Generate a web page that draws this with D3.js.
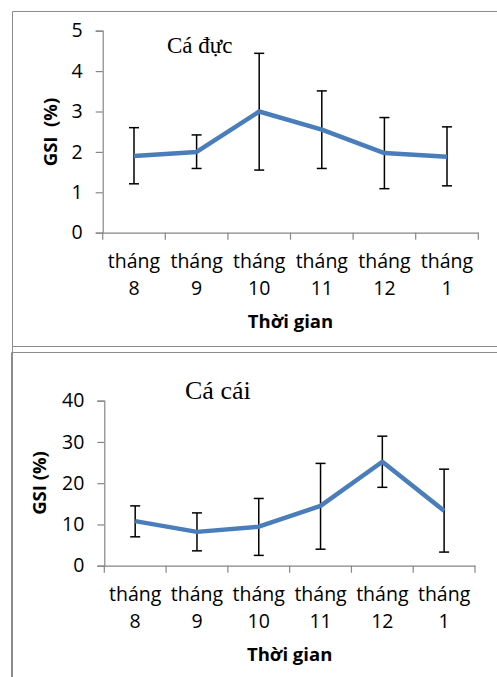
<!DOCTYPE html>
<html><head><meta charset="utf-8">
<script src="https://cdn.jsdelivr.net/npm/d3@7"></script>
<style>body{margin:0;background:#fff}svg{display:block}</style>
</head><body>
<svg id="c" width="497" height="677"></svg>
<script>
const categories = ["tháng 8","tháng 9","tháng 10","tháng 11","tháng 12","tháng 1"];
const maleGSI  = [1.90, 2.00, 3.00, 2.55, 1.97, 1.88];
const maleLow  = [1.21, 1.59, 1.55, 1.59, 1.09, 1.16];
const maleHigh = [2.60, 2.42, 4.44, 3.51, 2.85, 2.62];
const maleTicks = [0,1,2,3,4,5];
const femaleGSI  = [10.8, 8.2, 9.45, 14.5, 25.2, 13.3];
const femaleLow  = [7.0, 3.6, 2.5, 4.0, 19.0, 3.3];
const femaleHigh = [14.5, 12.8, 16.3, 24.8, 31.4, 23.4];
const femaleTicks = [0,10,20,30,40];

const svg = d3.select("#c");
const FONT = "'Open Sans', sans-serif";

function panel(cfg){
  svg.append("path").attr("d", cfg.frame).attr("fill","none").attr("stroke","#8c8c8c").attr("stroke-width",1);
  const g = svg.append("g");
  const x = d3.scaleBand().domain(categories).range([cfg.x0, cfg.x1]);
  const y = d3.scaleLinear().domain([0, d3.max(cfg.ticks)]).range([cfg.y0, cfg.y1]);
  const ya = g.append("g").attr("transform",`translate(${cfg.x0},0)`)
    .call(d3.axisLeft(y).tickValues(cfg.ticks).tickFormat(d3.format("d")).tickSize(7).tickPadding(13));
  ya.select(".domain").attr("stroke","#868686").attr("stroke-width",1.2);
  ya.selectAll(".tick line").attr("stroke","#868686").attr("stroke-width",1.2);
  ya.selectAll(".tick text").attr("font-family",FONT).attr("font-size",19.5).attr("fill","#000");
  const xa = g.append("g").attr("transform",`translate(0,${cfg.y0})`)
    .call(d3.axisBottom(x).tickSize(0).tickFormat(""));
  xa.select(".domain").attr("stroke","#868686").attr("stroke-width",1.2);
  const bounds = categories.map(c=>x(c)).concat([cfg.x1]);
  g.selectAll(".bt").data(bounds).join("line")
    .attr("x1",d=>d).attr("x2",d=>d).attr("y1",cfg.y0).attr("y2",cfg.y0+7)
    .attr("stroke","#868686").attr("stroke-width",1.2);
  const lab = g.selectAll(".cl").data(categories).join("text")
    .attr("text-anchor","middle").attr("font-family",FONT).attr("font-size",19.5).attr("fill","#000");
  lab.append("tspan").attr("x",c=>x(c)+x.bandwidth()/2).attr("y",cfg.y0+35).text(c=>c.split(" ")[0]);
  lab.append("tspan").attr("x",c=>x(c)+x.bandwidth()/2).attr("y",cfg.y0+62).text(c=>c.split(" ")[1]);
  g.append("text").attr("x",(cfg.x0+cfg.x1)/2).attr("y",cfg.y0+95).attr("text-anchor","middle")
    .attr("font-family",FONT).attr("font-weight","bold").attr("font-size",18.5).text("Thời gian");
  g.append("text").attr("transform",`translate(${cfg.ylabX},${cfg.ylabY}) rotate(-90)`).attr("text-anchor","middle")
    .attr("font-family",FONT).attr("font-weight","bold").attr("font-size",18.5).attr("xml:space","preserve").text(cfg.ylab);
  g.append("text").attr("x",cfg.tx).attr("y",cfg.ty).attr("font-family","'Liberation Serif','Times New Roman',serif")
    .attr("font-size",cfg.tsize).text(cfg.title);
  const cx = c=>x(c)+x.bandwidth()/2;
  const eb = g.selectAll(".eb").data(categories).join("g");
  eb.append("line").attr("x1",cx).attr("x2",cx).attr("y1",(c,i)=>y(cfg.lo[i])).attr("y2",(c,i)=>y(cfg.hi[i]))
    .attr("stroke","#000").attr("stroke-width",1.5);
  eb.append("line").attr("x1",c=>cx(c)-5).attr("x2",c=>cx(c)+5).attr("y1",(c,i)=>y(cfg.lo[i])).attr("y2",(c,i)=>y(cfg.lo[i]))
    .attr("stroke","#000").attr("stroke-width",1.5);
  eb.append("line").attr("x1",c=>cx(c)-5).attr("x2",c=>cx(c)+5).attr("y1",(c,i)=>y(cfg.hi[i])).attr("y2",(c,i)=>y(cfg.hi[i]))
    .attr("stroke","#000").attr("stroke-width",1.5);
  const line = d3.line().x((v,i)=>cx(categories[i])).y(v=>y(v));
  g.append("path").attr("d",line(cfg.vals)).attr("fill","none").attr("stroke","#4a7ebb")
    .attr("stroke-width",4.5).attr("stroke-linejoin","round");
}

panel({frame:"M12.5,690 L12.5,11.5 L500,11.5 M12.5,346.5 L500,346.5",
  x0:102.7, x1:478.3, y0:232.7, y1:30.7, ticks:maleTicks,
  vals:maleGSI, lo:maleLow, hi:maleHigh,
  ylab:"GSI  (%)", ylabX:57, ylabY:132, title:"Cá đực", tx:167, ty:53, tsize:23});
panel({frame:"M11.5,690 L11.5,352.5 L500,352.5",
  x0:104.3, x1:475, y0:565.7, y1:400.7, ticks:femaleTicks,
  vals:femaleGSI, lo:femaleLow, hi:femaleHigh,
  ylab:"GSI (%)", ylabX:46, ylabY:483, title:"Cá cái", tx:185, ty:399, tsize:26});
</script>
</body></html>
